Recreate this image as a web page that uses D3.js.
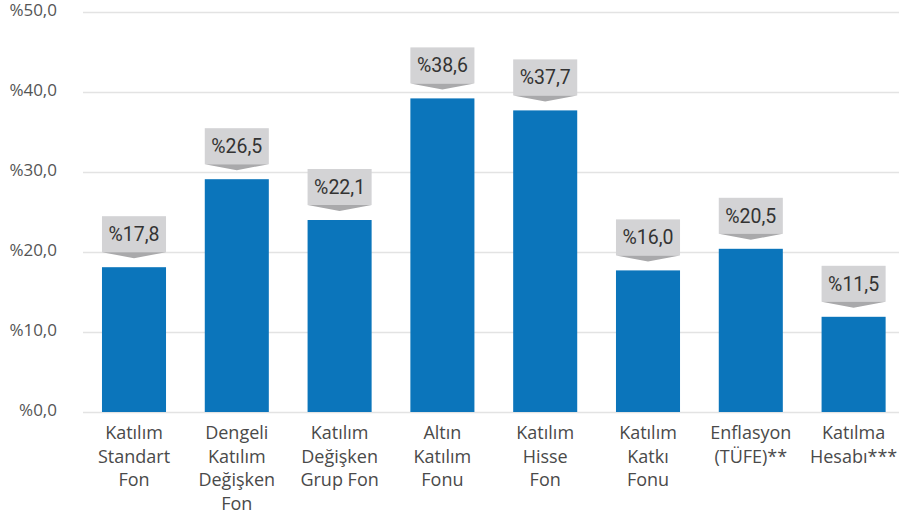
<!DOCTYPE html>
<html>
<head>
<meta charset="utf-8">
<script src="https://cdn.jsdelivr.net/npm/d3@7/dist/d3.min.js"></script>
<style>
  html, body { margin: 0; padding: 0; background: #fff; }
  svg { display: block; }
</style>
</head>
<body>
<svg id="chart" width="899" height="517"></svg>
<script>
// ---- data ----
const categories = [
  ["Katılım", "Standart", "Fon"],
  ["Dengeli", "Katılım", "Değişken", "Fon"],
  ["Katılım", "Değişken", "Grup Fon"],
  ["Altın", "Katılım", "Fonu"],
  ["Katılım", "Hisse", "Fon"],
  ["Katılım", "Katkı", "Fonu"],
  ["Enflasyon", "(TÜFE)**"],
  ["Katılma", "Hesabı***"]
];
const barValues = [18.1, 29.1, 24.0, 39.2, 37.7, 17.7, 20.4, 11.9];
const valueLabels = ["%17,8", "%26,5", "%22,1", "%38,6", "%37,7", "%16,0", "%20,5", "%11,5"];
const yTicks = [0, 10, 20, 30, 40, 50];

// ---- chart ----
const svg = d3.select("#chart");
const y = d3.scaleLinear().domain([0, 50]).range([412, 12]);
const x = d3.scaleBand()
  .domain(d3.range(categories.length))
  .range([82.6, 905])
  .paddingInner(0.377)
  .paddingOuter(0.1885);

const fmt = d => "%" + d.toFixed(1).replace(".", ",");

// gridlines
const grid = svg.append("g")
  .attr("transform", "translate(83,0)")
  .call(d3.axisRight(y).tickValues(yTicks).tickSize(816).tickFormat(""));
grid.select(".domain").remove();
grid.selectAll("line").attr("stroke", "#e3e3e3").attr("stroke-width", 1.5);

// y labels
const yAx = svg.append("g")
  .attr("transform", "translate(57,0)")
  .call(d3.axisLeft(y).tickValues(yTicks).tickSize(0).tickPadding(0).tickFormat(fmt));
yAx.select(".domain").remove();
yAx.selectAll("text")
  .attr("font-family", "'Open Sans', sans-serif")
  .attr("font-size", 17)
  .attr("fill", "#555")
  .attr("dy", "0.2em");

// bars
svg.append("g").selectAll("rect")
  .data(barValues)
  .join("rect")
  .attr("x", (d, i) => x(i))
  .attr("y", d => y(d))
  .attr("width", x.bandwidth())
  .attr("height", d => y(0) - y(d))
  .attr("fill", "#0b75bb");

// value label boxes
const lab = svg.append("g").selectAll("g")
  .data(barValues)
  .join("g");
lab.append("rect")
  .attr("x", (d, i) => x(i))
  .attr("y", d => y(d) - 51)
  .attr("width", x.bandwidth())
  .attr("height", 36)
  .attr("fill", "#d3d3d5");
lab.append("path")
  .attr("d", (d, i) => {
    const x0 = x(i), x1 = x(i) + x.bandwidth(), cx = x(i) + x.bandwidth() / 2;
    const yb = y(d) - 15;
    return `M${x0},${yb}L${x1},${yb}L${cx},${yb + 6}Z`;
  })
  .attr("fill", "#a9a9ab");
lab.append("text")
  .attr("x", (d, i) => x(i) + x.bandwidth() / 2)
  .attr("y", d => y(d) - 33)
  .attr("dy", "0.36em")
  .attr("text-anchor", "middle")
  .attr("font-family", "Roboto, sans-serif")
  .attr("font-size", 19.5)
  .attr("fill", "#333")
  .text((d, i) => valueLabels[i]);

// category labels
const cat = svg.append("g").selectAll("text")
  .data(categories)
  .join("text")
  .attr("text-anchor", "middle")
  .attr("font-family", "'Open Sans', sans-serif")
  .attr("font-size", 18)
  .attr("fill", "#4a4a4a");
cat.selectAll("tspan")
  .data((d, i) => d.map(t => ({ t, i })))
  .join("tspan")
  .attr("x", d => x(d.i) + x.bandwidth() / 2)
  .attr("y", (d, j) => 439 + j * 23.5)
  .text(d => d.t);
</script>
</body>
</html>
